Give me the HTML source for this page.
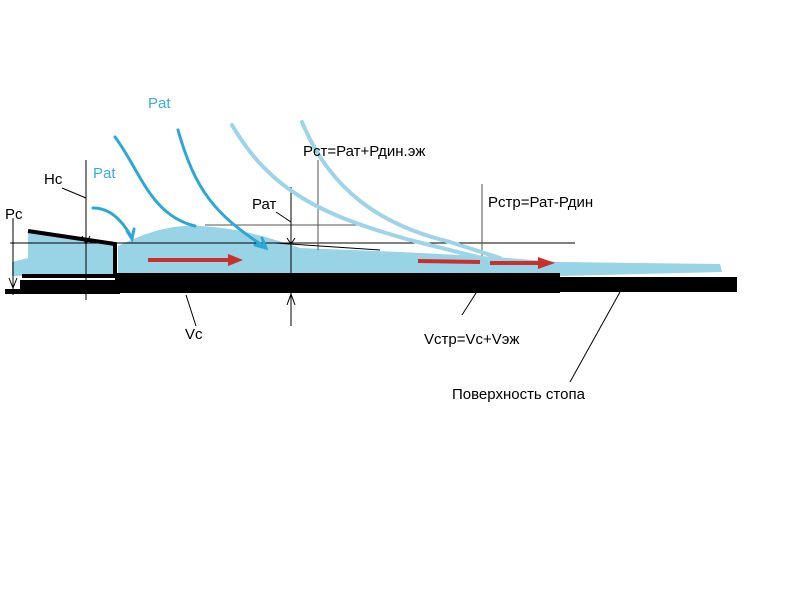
<!DOCTYPE html>
<html><head><meta charset="utf-8"><style>
html,body{margin:0;padding:0;background:#fff}
svg{display:block}
text{font-family:"Liberation Sans",sans-serif;font-size:15px}
</style></head><body>
<svg width="800" height="600" viewBox="0 0 800 600" xmlns="http://www.w3.org/2000/svg">
<g fill="#98d3e6">
<path d="M12,262 L28,258 L28,232 L115,244 L115,274 L12,276 Z"/>
<path d="M118,246 C140,236 165,224 200,226 C240,228 270,238 300,248 L400,252 L480,256 L560,262 L720,264 L722,272 L560,276 L118,276 Z"/>
</g>
<g stroke="#000" stroke-width="1" fill="none">
<line x1="10" y1="243" x2="575" y2="243"/>
<line x1="205" y1="225" x2="363" y2="225" stroke="#555"/>
<line x1="86" y1="160" x2="86" y2="300"/>
<line x1="13" y1="218" x2="13" y2="295"/>
<line x1="291" y1="187" x2="291" y2="326"/>
<line x1="318" y1="160" x2="318" y2="250" stroke="#555"/>
<line x1="482" y1="184" x2="482" y2="258" stroke="#555"/>
<line x1="62" y1="188" x2="86" y2="198"/>
<line x1="276" y1="212" x2="291" y2="222"/>
<line x1="186" y1="295" x2="196" y2="326"/>
<line x1="476" y1="293" x2="462" y2="315"/>
<line x1="620" y1="292" x2="570" y2="382"/>
<line x1="275" y1="243" x2="380" y2="250"/>
<path d="M82,236 L86,244 L90,236 M287,238 L291,244 L295,238 M287,305 L291,294 L295,305 M9,278 L13,288 L17,278"/>
</g>
<g stroke="#000" fill="none" stroke-width="4">
<path d="M28,231 L115,244 L115,276 L22,276"/>
</g>
<g fill="#000">
<rect x="115" y="273" width="445" height="20"/>
<rect x="115" y="277" width="622" height="15"/>
<rect x="20" y="280" width="98" height="11"/>
<rect x="5" y="289" width="115" height="5"/>
</g>
<g stroke="#2ea7d5" stroke-width="3" fill="none" stroke-linecap="round">
<path d="M93,208 C110,208 122,220 132,238"/>
<path d="M127,231 L132,239 L134,229"/>
<path d="M115,137 C140,170 150,215 195,226"/>
<path d="M178,130 C195,190 215,215 265,247"/>
<path d="M255,245 L266,248 L262,238"/>
</g>
<g stroke="#9ed4e8" stroke-width="4" fill="none" stroke-linecap="round">
<path d="M232,125 C270,190 320,215 410,240 C450,250 480,258 500,262"/>
<path d="M302,122 C330,190 380,225 450,242 L500,258"/>
</g>
<g stroke="#c9302c" stroke-width="4" fill="#c9302c">
<line x1="148" y1="260" x2="230" y2="260"/>
<path d="M228,254 L243,260 L228,266 Z" stroke="none"/>
<line x1="418" y1="261" x2="480" y2="262"/>
<line x1="490" y1="263" x2="542" y2="263"/>
<path d="M538,257 L555,263 L538,269 Z" stroke="none"/>
</g>
<g fill="#3aaed8">
<text x="148" y="108">Pat</text>
<text x="93" y="178">Pat</text>
</g>
<g fill="#000">
<text x="44" y="184">Hc</text>
<text x="5" y="219">Pc</text>
<text x="252" y="209">Рат</text>
<text x="303" y="156">Рст=Рат+Рдин.эж</text>
<text x="488" y="207">Рстр=Рат-Рдин</text>
<text x="185" y="339">Vc</text>
<text x="424" y="344">Vстр=Vc+Vэж</text>
<text x="452" y="399">Поверхность стопа</text>
</g>
</svg>
</body></html>
